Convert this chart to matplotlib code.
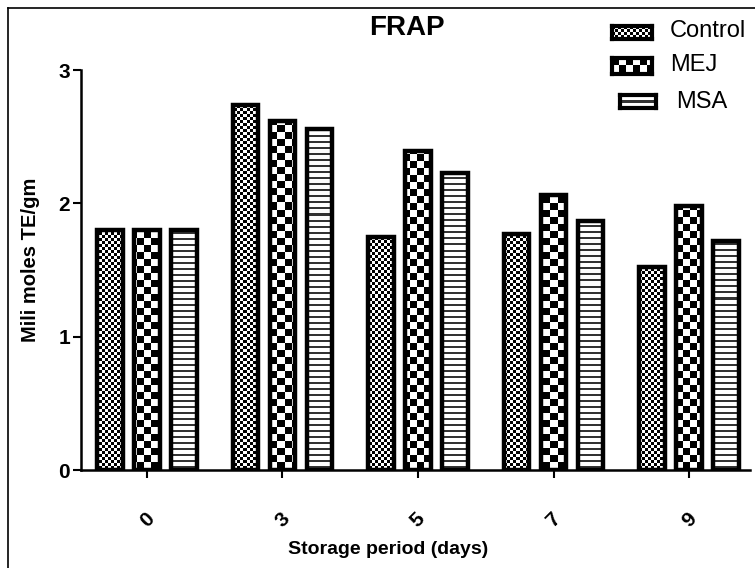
#!/usr/bin/env python3
"""FRAP antioxidant activity over storage period, patterned bar chart."""

import matplotlib
matplotlib.use("Agg")
import matplotlib.pyplot as plt
import numpy as np
from matplotlib.lines import Line2D

plt.rcParams["font.family"] = ["Liberation Sans", "DejaVu Sans"]

# data
DAYS = ["0", "3", "5", "7", "9"]
SERIES = ["Control", "MEJ", "MSA"]
CONTROL = [1.80, 2.74, 1.75, 1.77, 1.52]
MEJ = [1.80, 2.62, 2.39, 2.06, 1.98]
MSA = [1.80, 2.56, 2.23, 1.87, 1.72]

W, H = 755, 568


def px(x, y, w=0, h=0):
    """Pixel box (top-left origin) -> figure fraction [l, b, w, h]."""
    return [x / W, 1 - (y + h) / H, w / W, h / H]


def pattern(kind, rows, cols):
    yy, xx = np.mgrid[0:rows, 0:cols]
    if kind == "Control":
        return ((xx // 3 + yy // 3) % 2).astype(float)
    if kind == "MEJ":
        return ((xx // 7 + yy // 7) % 2).astype(float)
    return np.where(yy % 6 < 2, 0.2, 1.0)


fig = plt.figure(figsize=(W / 100, H / 100), dpi=100)
ax = fig.add_axes(px(81, 70, 669, 400))

xmin, xmax = -0.487, 4.45
ymin, ymax = 0, 3
x = np.arange(len(DAYS))
width = 0.185
offset = 0.273

for i, (name, vals) in enumerate(zip(SERIES, [CONTROL, MEJ, MSA])):
    bars = ax.bar(x + (i - 1) * offset, vals, width=width, facecolor="none",
                  edgecolor="black", linewidth=3.2, zorder=3)
    img = pattern(name, 400, 669)
    for b in bars:
        im = ax.imshow(img, cmap="gray", vmin=0, vmax=1, extent=(xmin, xmax, ymin, ymax),
                       aspect="auto", interpolation="nearest", zorder=2)
        im.set_clip_path(b)

ax.set_xlim(xmin, xmax)
ax.set_ylim(ymin, ymax)
ax.set_xticks(x)
ax.set_xticklabels(DAYS, rotation=45, fontsize=15, fontweight="bold",
                   ha="center", va="center")
ax.set_yticks([0, 1, 2, 3])
ax.set_yticklabels(["0", "1", "2", "3"], fontsize=15, fontweight="bold")
ax.tick_params(axis="both", length=6, width=1.5, direction="out")
ax.tick_params(axis="x", pad=30)
ax.tick_params(axis="y", pad=2)
for s in ["top", "right"]:
    ax.spines[s].set_visible(False)
for s in ["left", "bottom"]:
    ax.spines[s].set_linewidth(1.8)

fig.text(31 / W, 1 - 260 / H, "Mili moles TE/gm", rotation=90, fontsize=14.5,
         fontweight="bold", ha="center", va="center")
fig.text(388 / W, 1 - 549 / H, "Storage period (days)", fontsize=14,
         fontweight="bold", ha="center", va="center")
fig.text(407 / W, 1 - 28 / H, "FRAP", fontsize=20, fontweight="bold",
         ha="center", va="center")

# legend swatches drawn by hand to carry the image patterns
legend_boxes = {"Control": (612, 26, 40, 13), "MEJ": (612, 58, 40, 16), "MSA": (620, 95, 36, 13)}
legend_text = {"Control": (670, 31), "MEJ": (670, 65), "MSA": (676, 102)}
for name in SERIES:
    bx, by, bw, bh = legend_boxes[name]
    lax = fig.add_axes(px(bx, by, bw, bh))
    lax.imshow(pattern(name, bh, bw), cmap="gray", vmin=0, vmax=1,
               aspect="auto", interpolation="nearest")
    lax.set_xticks([])
    lax.set_yticks([])
    for s in lax.spines.values():
        s.set_linewidth(3)
    tx, ty = legend_text[name]
    fig.text(tx / W, 1 - ty / H, name, fontsize=17, ha="left", va="center")

# outer frame of the original image
fig.add_artist(Line2D([8 / W, 8 / W], [0, 1 - 8 / H], transform=fig.transFigure,
                      color="black", linewidth=1.2))
fig.add_artist(Line2D([8 / W, 1], [1 - 8 / H, 1 - 8 / H], transform=fig.transFigure,
                      color="black", linewidth=1.2))

fig.savefig("out.png", dpi=100)
plt.close(fig)
